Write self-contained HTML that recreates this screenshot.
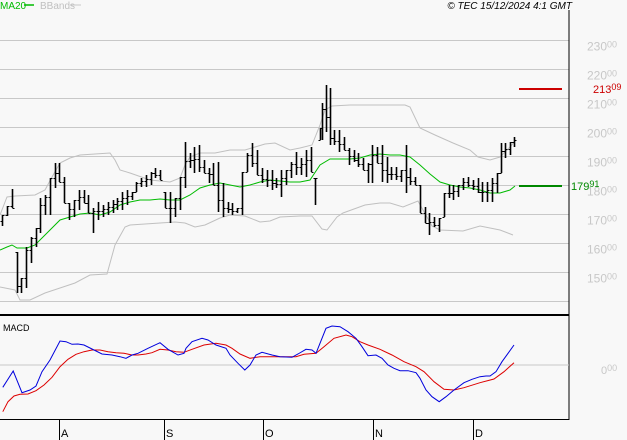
<!DOCTYPE html>
<html><head><meta charset="utf-8"><style>
html,body{margin:0;padding:0;background:#f8f8f8;}
svg{display:block;font-family:"Liberation Sans",sans-serif;}
</style></head><body>
<svg id="s" width="627" height="440" xmlns="http://www.w3.org/2000/svg">
<rect width="627" height="440" fill="#f8f8f8"/>
<g id="grid" stroke="#c8c8c8" stroke-width="1"></g>
<g id="lab" fill="#c8c8c8" font-size="12"></g>
<text x="0" y="9" font-size="10" fill="#00bb00">MA20</text>
<line x1="24" y1="5" x2="34" y2="5" stroke="#00bb00" stroke-width="1.5"/>
<text x="40" y="9" font-size="10" fill="#c0c0c0">BBands</text>
<line x1="70" y1="5" x2="81" y2="5" stroke="#c8c8c8" stroke-width="1"/>
<text x="572" y="9" font-size="10" font-style="italic" fill="#000" text-anchor="end">© TEC 15/12/2024 4:1 GMT</text>
<polyline id="ub" fill="none" stroke="#c0c0c0" stroke-width="1"/>
<polyline id="lb" fill="none" stroke="#c0c0c0" stroke-width="1"/>
<polyline id="ma" fill="none" stroke="#00bb00" stroke-width="1"/>
<g id="bars" stroke="#000"></g>
<line x1="519" y1="89" x2="562" y2="89" stroke="#cc0000" stroke-width="2"/>
<text x="593" y="93" font-size="11" fill="#cc0000">213<tspan font-size="9" dy="-3">09</tspan></text>
<line x1="519" y1="186" x2="562" y2="186" stroke="#008800" stroke-width="2"/>
<text x="571" y="190" font-size="11" fill="#008800">179<tspan font-size="9" dy="-3">91</tspan></text>
<line x1="569" y1="10" x2="569" y2="420" stroke="#000" stroke-width="1"/>
<line x1="0" y1="315" x2="569" y2="315" stroke="#000" stroke-width="2"/>
<line x1="0" y1="419.5" x2="569" y2="419.5" stroke="#000" stroke-width="1"/>
<line x1="0" y1="365" x2="569" y2="365" stroke="#c8c8c8" stroke-width="1"/>
<text x="601" y="374" font-size="11" fill="#c8c8c8">0<tspan font-size="9" dy="-3">00</tspan></text>
<text x="3" y="331" font-size="9" fill="#000">MACD</text>
<polyline id="red" fill="none" stroke="#dd0000" stroke-width="1"/>
<polyline id="blue" fill="none" stroke="#0000dd" stroke-width="1"/>
<g id="months" font-size="11" fill="#000"></g>
</svg>
<script>
var ns="http://www.w3.org/2000/svg";
function el(p,t,a,txt){var e=document.createElementNS(ns,t);for(var k in a)e.setAttribute(k,a[k]);if(txt!=null)e.textContent=txt;document.getElementById(p).appendChild(e);return e;}
for(var p=230;p>=140;p-=10){var y=Math.round(40+(230-p)*2.9)+0.5;el('grid','line',{x1:0,y1:y,x2:569,y2:y});
if(p>=150){var t=el('lab','text',{x:587,y:y+10});t.innerHTML=p+'<tspan font-size="9" dy="-3">00</tspan>';}}
var bars=[[2,215,226],[7,206,216],[12,189,208],[17,252,293],[21,278,293],[26,247,288],[31,237,263],[36,228,247],[40,198,233],[45,195,215],[50,178,215],[55,163,188],[59,163,182],[64,177,203],[69,203,220],[74,200,217],[79,190,210],[84,190,203],[88,195,213],[93,208,233],[98,202,220],[103,205,217],[108,202,215],[113,200,213],[117,198,210],[122,192,210],[127,190,205],[132,192,200],[136,182,192],[141,178,187],[146,175,187],[151,172,185],[155,168,178],[160,170,180],[165,192,208],[170,192,223],[175,198,217],[180,177,210],[185,142,188],[190,153,168],[194,147,173],[199,145,172],[204,160,173],[209,168,183],[213,163,185],[218,162,212],[223,183,217],[228,202,213],[232,203,215],[237,208,213],[242,172,215],[247,153,172],[252,143,167],[257,150,175],[262,168,183],[267,170,187],[272,170,190],[276,178,188],[281,170,197],[286,170,185],[291,162,178],[296,152,175],[301,158,175],[306,150,177],[311,147,172],[315,178,205],[320,128,140],[322,103,140],[326,85,132],[330,88,145],[334,130,145],[339,130,152],[344,137,150],[349,148,165],[354,150,162],[358,153,167],[363,158,170],[368,163,183],[372,145,183],[377,147,163],[382,145,182],[387,157,183],[391,167,180],[396,167,180],[401,170,182],[406,145,193],[410,168,185],[415,177,185],[420,185,213],[425,207,223],[429,213,235],[434,217,227],[439,218,232],[444,193,217],[449,185,198],[453,185,200],[458,185,197],[463,178,190],[468,177,187],[473,180,190],[478,178,193],[482,182,202],[487,182,202],[492,178,202],[497,173,193],[501,143,173],[505,143,158],[510,142,155],[514,137,147]];
var prevc=null;
bars.forEach(function(b,i){var x=b[0]+0.5;el('bars','line',{x1:x,y1:b[1],x2:x,y2:b[2],'stroke-width':1.6});
var o=prevc==null?(b[1]+b[2])/2:Math.min(b[2],Math.max(b[1],prevc));
var n=bars[i+1];var c=n?Math.min(b[2],Math.max(b[1],(n[1]+n[2])/2)):b[1]+3;
el('bars','line',{x1:x-2,y1:Math.round(o)+0.5,x2:x,y2:Math.round(o)+0.5,'stroke-width':1});
el('bars','line',{x1:x,y1:Math.round(c)+0.5,x2:x+2,y2:Math.round(c)+0.5,'stroke-width':1});prevc=c;});
function pts(id,a){document.getElementById(id).setAttribute('points',a.map(function(q){return q[0]+','+q[1]}).join(' '));}
pts('ma',[[0,250],[7,247],[12,245],[17,248],[27,248],[35,245],[45,235],[55,225],[60,220],[70,217],[80,214],[90,213],[100,215],[110,212],[120,205],[130,202],[140,200],[150,200],[160,199],[170,200],[180,200],[190,195],[200,188],[210,185],[220,183],[230,185],[240,187],[250,185],[260,182],[270,180],[280,181],[290,182],[300,182],[310,180],[320,165],[330,159],[340,159],[350,159],[360,158],[370,155],[380,154],[390,155],[400,155],[410,157],[420,165],[430,174],[440,182],[450,185],[460,187],[470,188],[480,190],[490,193],[500,193],[510,190],[515,186]]);
pts('ub',[[0,215],[7,197],[15,196],[35,195],[45,190],[52,177],[60,163],[70,158],[80,155],[95,154],[110,153],[115,160],[120,170],[130,173],[150,180],[170,182],[180,178],[185,165],[190,157],[200,153],[215,153],[230,150],[245,150],[255,147],[265,144],[275,143],[290,150],[300,148],[312,145],[320,125],[325,110],[332,106],[350,105],[380,105],[405,105],[410,107],[420,128],[435,135],[453,143],[470,150],[478,157],[490,160],[500,157],[510,147],[516,140]]);
pts('lb',[[0,287],[15,290],[20,300],[30,300],[45,293],[60,288],[75,283],[90,275],[107,274],[115,245],[125,227],[130,225],[160,223],[175,222],[185,223],[195,227],[205,225],[220,218],[230,215],[245,216],[260,222],[270,221],[280,217],[300,216],[312,216],[322,229],[327,230],[337,217],[343,213],[365,205],[380,203],[390,203],[403,207],[418,201],[423,210],[432,226],[440,230],[463,231],[480,226],[500,230],[513,235]]);
function tr(a){return a.map(function(q){return [(q[0]/2.5).toFixed(1),(q[1]/3+300).toFixed(1)]});}
pts('blue',tr([[7,262],[33,213],[55,278],[75,270],[90,258],[105,215],[125,180],[150,123],[165,125],[180,133],[195,132],[210,135],[230,147],[255,162],[280,165],[300,170],[315,175],[330,165],[345,160],[370,145],[400,128],[420,148],[445,165],[460,160],[465,145],[480,125],[505,115],[520,120],[540,135],[565,145],[575,165],[595,190],[612,210],[625,195],[640,165],[655,157],[680,165],[700,170],[730,172],[745,162],[765,148],[780,150],[790,160],[800,130],[815,85],[830,78],[850,80],[870,95],[890,115],[905,140],[920,167],[940,165],[955,175],[970,195],[985,205],[1000,212],[1020,212],[1040,218],[1050,235],[1065,270],[1080,290],[1098,305],[1115,290],[1135,270],[1160,248],[1180,238],[1200,230],[1215,228],[1225,228],[1240,215],[1255,185],[1285,135]]));
pts('red',tr([[7,335],[20,305],[35,288],[50,283],[70,282],[90,272],[110,255],[130,232],[150,200],[170,178],[190,163],[210,155],[230,150],[250,150],[270,155],[290,158],[310,160],[330,165],[345,165],[365,162],[380,158],[400,148],[420,150],[440,155],[460,157],[480,148],[510,135],[540,130],[565,135],[580,145],[600,162],[625,175],[650,170],[700,170],[740,170],[760,163],[790,160],[810,140],[835,115],[865,105],[880,110],[900,125],[920,135],[950,148],[980,165],[1010,185],[1040,200],[1060,215],[1085,245],[1110,268],[1135,270],[1160,263],[1200,248],[1235,237],[1260,215],[1285,188]]));
[['A',59],['S',164],['O',263],['N',373],['D',473]].forEach(function(m){el('months','line',{x1:m[1]+0.5,y1:420,x2:m[1]+0.5,y2:440,stroke:'#000'});el('months','text',{x:m[1]+2,y:437},m[0]);});
</script>
</body></html>
